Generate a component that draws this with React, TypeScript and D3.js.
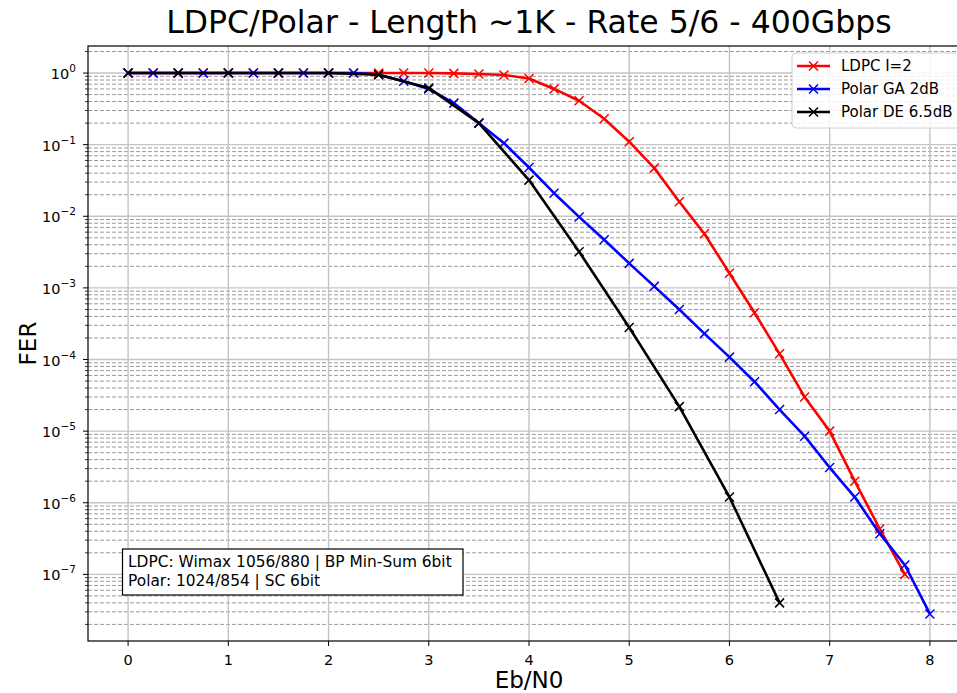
import * as d3 from "d3"

// Eb/N0 points per curve
const ebn0Ldpc = [0, 0.25, 0.5, 0.75, 1, 1.25, 1.5, 1.75, 2, 2.25, 2.5, 2.75, 3, 3.25, 3.5, 3.75, 4, 4.25, 4.5, 4.75, 5, 5.25, 5.5, 5.75, 6, 6.25, 6.5, 6.75, 7, 7.25, 7.5, 7.75]
const ferLdpc = [1, 1, 1, 1, 1, 1, 1, 1, 1, 1, 1, 1, 1, 0.99, 0.97, 0.94, 0.84, 0.6, 0.41, 0.23, 0.11, 0.047, 0.016, 0.0057, 0.0016, 4.5e-4, 1.2e-4, 3.0e-5, 1.0e-5, 2.0e-6, 4.3e-7, 1.0e-7]

const ebn0PolarGA = [0, 0.25, 0.5, 0.75, 1, 1.25, 1.5, 1.75, 2, 2.25, 2.5, 2.75, 3, 3.25, 3.5, 3.75, 4, 4.25, 4.5, 4.75, 5, 5.25, 5.5, 5.75, 6, 6.25, 6.5, 6.75, 7, 7.25, 7.5, 7.75, 8]
const ferPolarGA = [1, 1, 1, 1, 1, 1, 1, 1, 1, 1, 0.95, 0.77, 0.6, 0.38, 0.2, 0.105, 0.048, 0.021, 0.0098, 0.0047, 0.0022, 0.00105, 5.0e-4, 2.3e-4, 1.08e-4, 4.9e-5, 2.0e-5, 8.5e-6, 3.1e-6, 1.2e-6, 3.7e-7, 1.35e-7, 2.8e-8]

const ebn0PolarDE = [0, 0.5, 1, 1.5, 2, 2.5, 3, 3.5, 4, 4.5, 5, 5.5, 6, 6.5]
const ferPolarDE = [1, 1, 1, 1, 1, 0.95, 0.62, 0.2, 0.032, 0.0032, 2.8e-4, 2.2e-5, 1.2e-6, 4.0e-8]

const seriesNames = ["LDPC I=2", "Polar GA 2dB", "Polar DE 6.5dB"]
const seriesColors = ["#ff0000", "#0000ff", "#000000"]

const xTicks = [0, 1, 2, 3, 4, 5, 6, 7, 8]
const yDecades = [0, -1, -2, -3, -4, -5, -6, -7]

const title = "LDPC/Polar - Length ~1K - Rate 5/6 - 400Gbps"
const noteLines = ["LDPC: Wimax 1056/880 | BP Min-Sum 6bit", "Polar: 1024/854 | SC 6bit"]

const W = 957
const H = 693
const margin = { top: 46, left: 88, right: 970, bottom: 641 }
const font = "DejaVu Sans, sans-serif"

export default function App() {
  const series = [
    { name: seriesNames[0], color: seriesColors[0], x: ebn0Ldpc, y: ferLdpc },
    { name: seriesNames[1], color: seriesColors[1], x: ebn0PolarGA, y: ferPolarGA },
    { name: seriesNames[2], color: seriesColors[2], x: ebn0PolarDE, y: ferPolarDE },
  ]

  // matplotlib style auto limits: 5% margins (log space on y)
  const allX = series.flatMap((s) => s.x)
  const allY = series.flatMap((s) => s.y)
  const xMin = d3.min(allX)!, xMax = d3.max(allX)!
  const xPad = (xMax - xMin) * 0.05
  const lMin = Math.log10(d3.min(allY)!), lMax = Math.log10(d3.max(allY)!)
  const lPad = (lMax - lMin) * 0.05

  const x = d3.scaleLinear().domain([xMin - xPad, xMax + xPad]).range([margin.left, margin.right])
  const y = d3
    .scaleLog()
    .domain([Math.pow(10, lMin - lPad), Math.pow(10, lMax + lPad)])
    .range([margin.bottom, margin.top])

  const [yLo, yHi] = y.domain()
  const minorTicks: number[] = []
  for (let e = -9; e <= 1; e++) {
    for (let k = 2; k <= 9; k++) {
      const v = k * Math.pow(10, e)
      if (v >= yLo && v <= yHi) minorTicks.push(v)
    }
  }

  const line = d3
    .line<[number, number]>()
    .x((d) => x(d[0]))
    .y((d) => y(d[1]))

  const m = 4.5
  const cx = (margin.left + margin.right) / 2
  const cy = (margin.top + margin.bottom) / 2

  return (
    <svg width={W} height={H} style={{ position: "absolute", left: 0, top: 0, background: "#fff" }} fontFamily={font}>
      <rect x={0} y={0} width={W} height={H} fill="#fff" />
      <text x={cx} y={33} textAnchor="middle" fontSize={31.5} fill="#000">
        {title}
      </text>

      {/* minor y grid */}
      {minorTicks.map((v, i) => (
        <line key={"mg" + i} x1={margin.left} x2={margin.right} y1={y(v)} y2={y(v)} stroke="#9a9a9a" strokeWidth={1} strokeDasharray="4,2" />
      ))}
      {/* major grid */}
      {yDecades.map((e) => (
        <line key={"yg" + e} x1={margin.left} x2={margin.right} y1={y(Math.pow(10, e))} y2={y(Math.pow(10, e))} stroke="#c4c4c4" strokeWidth={1.4} />
      ))}
      {xTicks.map((t) => (
        <line key={"xg" + t} x1={x(t)} x2={x(t)} y1={margin.top} y2={margin.bottom} stroke="#c4c4c4" strokeWidth={1.4} />
      ))}

      {/* curves */}
      {series.map((s) => {
        const pts = s.x.map((v, i) => [v, s.y[i]] as [number, number])
        return (
          <g key={s.name}>
            <path d={line(pts)!} fill="none" stroke={s.color} strokeWidth={2.6} strokeLinejoin="round" />
            {pts.map((p, i) => (
              <path
                key={i}
                d={`M${x(p[0]) - m},${y(p[1]) - m}L${x(p[0]) + m},${y(p[1]) + m}M${x(p[0]) - m},${y(p[1]) + m}L${x(p[0]) + m},${y(p[1]) - m}`}
                stroke={s.color}
                strokeWidth={1.5}
              />
            ))}
          </g>
        )
      })}

      {/* frame */}
      <rect x={margin.left} y={margin.top} width={margin.right - margin.left} height={margin.bottom - margin.top} fill="none" stroke="#000" strokeWidth={1.2} />

      {/* x axis ticks */}
      {xTicks.map((t) => (
        <g key={"xt" + t}>
          <line x1={x(t)} x2={x(t)} y1={margin.bottom} y2={margin.bottom + 5} stroke="#000" strokeWidth={1} />
          <text x={x(t)} y={665} textAnchor="middle" fontSize={14.5} fill="#000">
            {t}
          </text>
        </g>
      ))}
      {/* y axis ticks */}
      {minorTicks.map((v, i) => (
        <line key={"ymt" + i} x1={margin.left - 3} x2={margin.left} y1={y(v)} y2={y(v)} stroke="#000" strokeWidth={0.8} />
      ))}
      {yDecades.map((e) => (
        <g key={"yt" + e}>
          <line x1={margin.left - 5} x2={margin.left} y1={y(Math.pow(10, e))} y2={y(Math.pow(10, e))} stroke="#000" strokeWidth={1} />
          <text x={margin.left - 12} y={y(Math.pow(10, e)) + 6} textAnchor="end" fontSize={14.5} fill="#000">
            10
            <tspan fontSize={10.5} dy={-7}>
              {e === 0 ? "0" : "\u2212" + Math.abs(e)}
            </tspan>
          </text>
        </g>
      ))}

      <text x={cx} y={688} textAnchor="middle" fontSize={23} fill="#000">
        Eb/N0
      </text>
      <text transform={`translate(36, ${cy}) rotate(-90)`} textAnchor="middle" fontSize={23} fill="#000">
        FER
      </text>

      {/* legend */}
      <g>
        <rect x={792} y={53} width={172} height={75} rx={4} fill="#fff" fillOpacity={0.85} stroke="#d0d0d0" strokeWidth={1} />
        {series.map((s, i) => {
          const ly = 66 + i * 23
          return (
            <g key={"lg" + i}>
              <line x1={797} x2={830} y1={ly} y2={ly} stroke={s.color} strokeWidth={2.6} />
              <path d={`M${813.5 - m},${ly - m}L${813.5 + m},${ly + m}M${813.5 - m},${ly + m}L${813.5 + m},${ly - m}`} stroke={s.color} strokeWidth={1.5} />
              <text x={841} y={ly + 5} fontSize={15} fill="#000">
                {s.name}
              </text>
            </g>
          )
        })}
      </g>

      {/* note box */}
      <g>
        <rect x={122.5} y={549} width={340.5} height={46} fill="#fff" stroke="#000" strokeWidth={1.2} />
        {noteLines.map((t, i) => (
          <text key={"n" + i} x={128} y={567 + i * 18.5} fontSize={15.4} fill="#000">
            {t}
          </text>
        ))}
      </g>
    </svg>
  )
}
